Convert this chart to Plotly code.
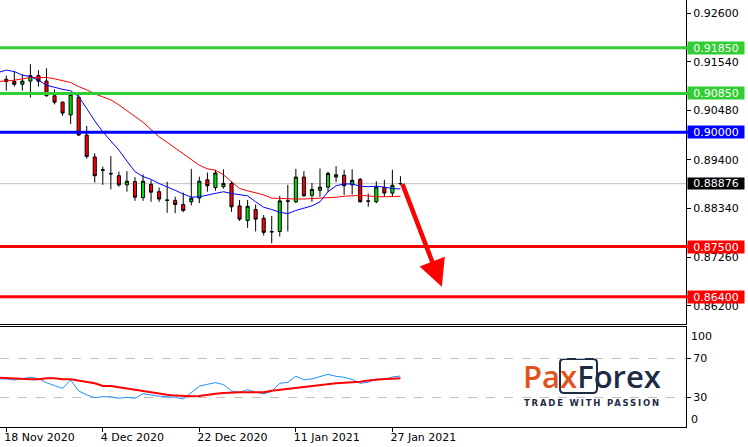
import plotly.graph_objects as go

# ---------------- data ----------------
dates = ['2020-11-17', '2020-11-18', '2020-11-19', '2020-11-20', '2020-11-23', '2020-11-24',
         '2020-11-25', '2020-11-26', '2020-11-27', '2020-11-30', '2020-12-01', '2020-12-02',
         '2020-12-03', '2020-12-04', '2020-12-07', '2020-12-08', '2020-12-09', '2020-12-10',
         '2020-12-11', '2020-12-14', '2020-12-15', '2020-12-16', '2020-12-17', '2020-12-18',
         '2020-12-21', '2020-12-22', '2020-12-23', '2020-12-24', '2020-12-28', '2020-12-29',
         '2020-12-30', '2020-12-31', '2021-01-04', '2021-01-05', '2021-01-06', '2021-01-07',
         '2021-01-08', '2021-01-11', '2021-01-12', '2021-01-13', '2021-01-14', '2021-01-15',
         '2021-01-18', '2021-01-19', '2021-01-20', '2021-01-21', '2021-01-22', '2021-01-25',
         '2021-01-26', '2021-01-27', '2021-01-28']

opens = [None, 0.9116, 0.9111, 0.9105, 0.9112, 0.9124, 0.9112, 0.9080, 0.9066, 0.9038,
         0.9077, 0.8994, 0.8946, 0.8918, 0.8910, 0.8905, 0.8885, 0.8892, 0.8857, 0.8886,
         0.8870, 0.8852, 0.8851, 0.8842, 0.8848, 0.8856, 0.8896, 0.8879, 0.8881, 0.8888,
         0.8839, 0.8807, 0.8831, 0.8812, 0.8783, 0.8783, 0.8850, 0.8848, 0.8902, 0.8862,
         0.8873, 0.8880, 0.8902, 0.8906, 0.8885, 0.8897, 0.8850, 0.8848, 0.8879, 0.8867,
         0.8888]
highs = [None, 0.9124, 0.9134, 0.9127, 0.9149, 0.9136, 0.9140, 0.9094, 0.9067, 0.9087,
         0.9083, 0.9014, 0.8954, 0.8925, 0.8948, 0.8914, 0.8915, 0.8902, 0.8908, 0.8895,
         0.8879, 0.8892, 0.8859, 0.8868, 0.8920, 0.8903, 0.8912, 0.8918, 0.8919, 0.8893,
         0.8852, 0.8852, 0.8842, 0.8819, 0.8817, 0.8861, 0.8885, 0.8920, 0.8915, 0.8889,
         0.8921, 0.8914, 0.8926, 0.8918, 0.8919, 0.8900, 0.8866, 0.8893, 0.8896, 0.8918,
         0.8904]
lows = [None, 0.9091, 0.9100, 0.9091, 0.9076, 0.9100, 0.9078, 0.9061, 0.9036, 0.9018,
        0.8992, 0.8942, 0.8890, 0.8885, 0.8875, 0.8881, 0.8870, 0.8850, 0.8850, 0.8848,
        0.8848, 0.8824, 0.8823, 0.8825, 0.8840, 0.8845, 0.8870, 0.8872, 0.8877, 0.8826,
        0.8806, 0.8791, 0.8783, 0.8774, 0.8757, 0.8772, 0.8783, 0.8845, 0.8859, 0.8848,
        0.8859, 0.8869, 0.8891, 0.8863, 0.8864, 0.8846, 0.8837, 0.8845, 0.8859, 0.8859,
        0.8885]
closes = [None, 0.9111, 0.9105, 0.9112, 0.9124, 0.9112, 0.9080, 0.9066, 0.9042, 0.9083,
          0.8994, 0.8947, 0.8905, 0.8917, 0.8909, 0.8885, 0.8893, 0.8858, 0.8893, 0.8869,
          0.8854, 0.8851, 0.8842, 0.8829, 0.8856, 0.8893, 0.8883, 0.8911, 0.8888, 0.8837,
          0.8810, 0.8838, 0.8810, 0.8781, 0.8782, 0.8850, 0.8849, 0.8902, 0.8861, 0.8875,
          0.8880, 0.8910, 0.8907, 0.8883, 0.8895, 0.8848, 0.8849, 0.8880, 0.8867, 0.8884,
          0.88876]

ma_fast = [0.9131, 0.9136, 0.9133, 0.9125, 0.9122, 0.9114, 0.9103, 0.9098, 0.9094, 0.9091,
           0.9078, 0.9052, 0.9025, 0.9001, 0.8981, 0.8961, 0.8937, 0.8914, 0.8903, 0.8897,
           0.8888, 0.8881, 0.8873, 0.8865, 0.8858, 0.8859, 0.8863, 0.8867, 0.8870, 0.8866,
           0.8863, 0.8861, 0.8848, 0.8836, 0.8831, 0.8825, 0.8822, 0.8829, 0.8834, 0.8839,
           0.8848, 0.8870, 0.8883, 0.8887, 0.8887, 0.8882, 0.8881, 0.8882, 0.8880, 0.8877,
           0.8876]
ma_slow = [0.9111, 0.9112, 0.9114, 0.9117, 0.9120, 0.9120, 0.9120, 0.9117, 0.9113, 0.9109,
           0.9100, 0.9093, 0.9084, 0.9078, 0.9071, 0.9060, 0.9047, 0.9033, 0.9022, 0.9006,
           0.8990, 0.8978, 0.8965, 0.8953, 0.8940, 0.8928, 0.8920, 0.8917, 0.8907, 0.8893,
           0.8877, 0.8872, 0.8867, 0.8863, 0.8856, 0.8855, 0.8854, 0.8854, 0.8854, 0.8855,
           0.8855, 0.8856, 0.8858, 0.8860, 0.8861, 0.8862, 0.8861, 0.8859, 0.8859, 0.8859,
           0.8860]

osc_values = [48.8, 48.8, 47.7, 49.1, 50.5, 49.1, 45.0, 41.9, 39.2, 47.7, 36.5, 32.4, 29.6,
              30.6, 30.6, 28.9, 30.0, 28.9, 33.7, 32.4, 31.0, 30.6, 30.0, 28.3, 35.1,
              41.3, 43.3, 45.0, 43.0, 36.5, 35.1, 37.8, 35.4, 33.4, 36.1, 44.3, 45.4, 51.5,
              48.1, 48.8, 51.2, 53.6, 51.5, 50.5, 48.4, 44.3, 45.4, 48.8, 48.1, 50.8, 51.8]
osc_signal = [50.1, 49.5, 49.5, 48.4, 48.4, 48.4, 49.5, 49.5, 48.4, 48.4, 47.1, 45.4, 44.3,
              41.6, 41.6, 40.2, 38.9, 37.5, 36.1, 34.7, 33.7, 32.7, 31.7, 31.0, 31.0,
              31.3, 32.7, 33.7, 34.4, 35.1, 35.1, 35.1, 35.1, 35.1, 36.8, 37.8, 38.9, 39.9,
              40.9, 41.6, 42.3, 43.3, 44.3, 45.0, 45.4, 46.0, 47.1, 48.1, 48.8, 49.1, 49.5]

price_ticks = [0.9260, 0.9154, 0.9048, 0.8940, 0.8834, 0.8726, 0.8620]
price_tick_labels = ['0.92600', '0.91540', '0.90480', '0.89400', '0.88340', '0.87260', '0.86200']

level_prices = [0.9185, 0.9085, 0.9000, 0.8750, 0.8640]
level_labels = ['0.91850', '0.90850', '0.90000', '0.87500', '0.86400']
level_colors = ['#32CD32', '#32CD32', '#0000FF', '#FF0000', '#FF0000']

last_price = 0.88876
last_price_label = '0.88876'

date_ticks = ['2020-11-18', '2020-12-04', '2020-12-22', '2021-01-11', '2021-01-27']
date_tick_labels = ['18 Nov 2020', '4 Dec 2020', '22 Dec 2020', '11 Jan 2021', '27 Jan 2021']

osc_ticks = [30, 70]
osc_edge_ticks = [100, 0]

# forecast arrow (category index positions, price)
arrow_x = [50.18, 55.15]
arrow_y = [0.8890, 0.8662]

# ---------------- figure ----------------
W, H = 748, 447
PLOT_RIGHT = 686 / W
FONT = 'DejaVu Sans'

fig = go.Figure()

fig.add_trace(go.Candlestick(
    x=dates, open=opens, high=highs, low=lows, close=closes,
    increasing=dict(line=dict(color='black', width=1), fillcolor='#00E000'),
    decreasing=dict(line=dict(color='black', width=1), fillcolor='#FF0000'),
    whiskerwidth=0, xaxis='x', yaxis='y', hoverinfo='skip'))

fig.add_trace(go.Scatter(x=dates, y=ma_slow, mode='lines',
                         line=dict(color='#FF0000', width=1), xaxis='x', yaxis='y'))
fig.add_trace(go.Scatter(x=dates, y=ma_fast, mode='lines',
                         line=dict(color='#0000FF', width=1), xaxis='x', yaxis='y'))

fig.add_trace(go.Scatter(x=dates, y=osc_values, mode='lines',
                         line=dict(color='#1E90FF', width=1), xaxis='x2', yaxis='y2'))
fig.add_trace(go.Scatter(x=dates, y=osc_signal, mode='lines',
                         line=dict(color='#FF0000', width=2), xaxis='x2', yaxis='y2'))

shapes = []
# current price line
shapes.append(dict(type='line', xref='paper', yref='y', x0=0, x1=PLOT_RIGHT,
                   y0=last_price, y1=last_price, line=dict(color='#C0C0C0', width=1),
                   layer='below'))
for p, c in zip(level_prices, level_colors):
    shapes.append(dict(type='line', xref='paper', yref='y', x0=0, x1=690 / W,
                       y0=p, y1=p, line=dict(color=c, width=3)))

annotations = []
for p, t, c in zip(level_prices, level_labels, level_colors):
    annotations.append(dict(xref='paper', yref='y', x=687 / W, y=p, xanchor='left',
                            yanchor='middle', text=t, showarrow=False, bgcolor=c,
                            width=56, height=12, borderpad=0,
                            font=dict(family=FONT, size=11, color='white')))
annotations.append(dict(xref='paper', yref='y', x=687 / W, y=last_price, xanchor='left',
                        yanchor='middle', text=last_price_label, showarrow=False,
                        bgcolor='black', width=56, height=11, borderpad=0,
                        font=dict(family=FONT, size=11, color='white')))

# oscillator edge labels (drawn inside the panel like the original)
for v, shift in zip(osc_edge_ticks, [-7, 7]):
    annotations.append(dict(xref='paper', yref='y2', x=690 / W, y=v, yshift=shift,
                            xanchor='left', yanchor='middle', text=str(v), showarrow=False,
                            borderpad=0, font=dict(family=FONT, size=11, color='black')))

# forecast arrow
annotations.append(dict(xref='x', yref='y', axref='x', ayref='y',
                        x=arrow_x[1], y=arrow_y[1], ax=arrow_x[0], ay=arrow_y[0],
                        text='', showarrow=True, arrowhead=2, arrowsize=1.2,
                        arrowwidth=4.5, arrowcolor='#FF0000', standoff=0, startstandoff=0))

# logo
annotations.append(dict(xref='paper', yref='paper', x=521 / W, y=1 - 376 / H,
                        xanchor='left', yanchor='middle', showarrow=False,
                        text="<span style='color:#E4521B'>Pax</span><span style='color:#1E2B45'>Forex</span>",
                        font=dict(family='Open Sans', size=31, weight=600)))
annotations.append(dict(xref='paper', yref='paper', x=522 / W, y=1 - 403 / H,
                        xanchor='left', yanchor='middle', showarrow=False,
                        text="<span style='letter-spacing:1.8px'>TRADE WITH PASSION</span>",
                        font=dict(family='DejaVu Sans', size=8.5, color='#1E2B45', weight=700)))

bx0, bx1, by0, by1, r = 560 / W, 597 / W, 1 - 393 / H, 1 - 359 / H, 4 / W
ry = 4 / H
shapes.append(dict(type='path', xref='paper', yref='paper',
                   path=(f'M {bx0 + r},{by1} L {bx1 - r},{by1} Q {bx1},{by1} {bx1},{by1 - ry} '
                         f'L {bx1},{by0 + ry} Q {bx1},{by0} {bx1 - r},{by0} '
                         f'L {bx0 + r},{by0} Q {bx0},{by0} {bx0},{by0 + ry} '
                         f'L {bx0},{by1 - ry} Q {bx0},{by1} {bx0 + r},{by1} Z'),
                   line=dict(color='#1E2B45', width=2), layer='below'))

x_range = [0.22, 85.5]
main_bottom = 1 - 324 / H
osc_top = 1 - 327 / H
osc_bottom = 1 - 427 / H

fig.update_layout(
    width=W, height=H, margin=dict(l=0, r=0, t=0, b=0, autoexpand=False),
    paper_bgcolor='white', plot_bgcolor='white', showlegend=False,
    boxgap=0.45,
    font=dict(family=FONT, size=11, color='black'),
    shapes=shapes, annotations=annotations,
    xaxis=dict(domain=[0, PLOT_RIGHT], anchor='y', type='category',
               categoryorder='array', categoryarray=dates, automargin=False,
               range=x_range, showticklabels=False, ticks='', showgrid=False,
               showline=True, linecolor='black', linewidth=1, zeroline=False,
               rangeslider=dict(visible=False), fixedrange=True),
    yaxis=dict(domain=[main_bottom, 1], anchor='x', side='right', automargin=False,
               range=[0.858053, 0.92895], tickvals=price_ticks, ticktext=price_tick_labels,
               ticks='outside', ticklen=4, tickcolor='black', showgrid=False,
               showline=True, linecolor='black', linewidth=1, zeroline=False,
               tickfont=dict(family=FONT, size=11, color='black')),
    xaxis2=dict(domain=[0, PLOT_RIGHT], anchor='y2', type='category',
                categoryorder='array', categoryarray=dates, automargin=False,
                range=x_range, tickvals=date_ticks, ticktext=date_tick_labels,
                ticks='outside', ticklen=4, tickcolor='black',
                ticklabelposition='outside right', ticklabelshift=-3,
                showgrid=False, showline=True, mirror=True, linecolor='black', linewidth=1,
                zeroline=False, tickfont=dict(family=FONT, size=11, color='black')),
    yaxis2=dict(domain=[osc_bottom, osc_top], anchor='x2', side='right', automargin=False,
                range=[-0.5, 102.1], tickvals=osc_ticks, ticktext=[str(v) for v in osc_ticks],
                ticks='outside', ticklen=4, tickcolor='black',
                showgrid=True, gridcolor='#C0C0C0', griddash='dash', gridwidth=1,
                showline=True, linecolor='black', linewidth=1, zeroline=False,
                tickfont=dict(family=FONT, size=11, color='black')),
)

fig.write_html('out.html', config={'displayModeBar': False},
               post_script="document.body.style.margin='0';document.body.style.padding='0';"
                           "document.body.style.overflow='hidden';")
